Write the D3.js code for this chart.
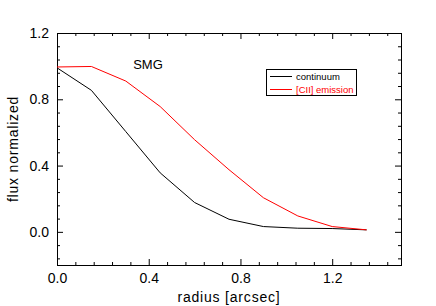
<!DOCTYPE html>
<html>
<head>
<meta charset="utf-8">
<script src="https://cdn.jsdelivr.net/npm/d3@7"></script>
<style>
    body { margin: 0; background: #fff; }
    svg { display: block; font-family: "Liberation Sans", Arial, Helvetica, sans-serif; }
</style>
</head>
<body>
<div id="chart"></div>
<script>
// radius sampling (arcsec)
var radius = [0.0, 0.15, 0.3, 0.45, 0.6, 0.75, 0.9, 1.05, 1.2, 1.35];
// normalized flux profiles
var continuum = [0.99, 0.854, 0.605, 0.356, 0.177, 0.076, 0.032, 0.022, 0.02, 0.012];
var ciiEmission = [0.995, 0.998, 0.91, 0.756, 0.556, 0.375, 0.206, 0.096, 0.032, 0.012];

var majorTicks = [0.0, 0.4, 0.8, 1.2];
var minorStep = 0.08;

var width = 436, height = 306;
var margin = { top: 33, right: 35, bottom: 41, left: 57 };

var svg = d3.select("#chart")
    .append("svg")
    .attr("width", width)
    .attr("height", height);

var x = d3.scaleLinear()
    .domain([0, 1.5])
    .range([margin.left, width - margin.right]);

var y = d3.scaleLinear()
    .domain([-0.2, 1.2])
    .range([height - margin.bottom, margin.top]);

// minor tick positions, multiples of 0.08 inside the domain
function minors(scale) {
    var d = scale.domain(), out = [];
    for (var i = Math.ceil(d[0] / minorStep); i * minorStep <= d[1] + 1e-9; i++) {
        var v = +(i * minorStep).toFixed(4);
        if (majorTicks.indexOf(v) < 0) out.push(v);
    }
    return out;
}

var fmt = d3.format(".1f");

function drawAxis(axisFn, scale, tx, ty, labels) {
    // minor ticks
    svg.append("g")
        .attr("transform", "translate(" + tx + "," + ty + ")")
        .call(axisFn(scale).tickValues(minors(scale)).tickSize(-3).tickFormat(""))
        .call(function (g) { g.select(".domain").remove(); });
    // major ticks
    var g = svg.append("g")
        .attr("transform", "translate(" + tx + "," + ty + ")")
        .call(axisFn(scale).tickValues(majorTicks).tickSize(-6).tickPadding(8)
            .tickFormat(labels ? fmt : ""));
    g.select(".domain").remove();
    g.selectAll("text").attr("font-size", 14).attr("fill", "#000")
        .attr("font-family", "\"Liberation Sans\", Arial, Helvetica, sans-serif");
    g.selectAll("line").attr("stroke", "#000");
}

var x0 = x.range()[0], x1 = x.range()[1];
var y0 = y.range()[0], y1 = y.range()[1];

drawAxis(d3.axisBottom, x, 0, y0, true);
drawAxis(d3.axisTop, x, 0, y1, false);
drawAxis(d3.axisLeft, y, x0, 0, true);
drawAxis(d3.axisRight, y, x1, 0, false);

// frame
svg.append("rect")
    .attr("x", x0 + 0.5)
    .attr("y", y1 + 0.5)
    .attr("width", x1 - x0)
    .attr("height", y0 - y1)
    .attr("fill", "none")
    .attr("stroke", "#000")
    .attr("stroke-width", 1);

// profiles
var line = d3.line()
    .x(function (d, i) { return x(radius[i]); })
    .y(function (d) { return y(d); });

svg.append("path")
    .datum(continuum)
    .attr("fill", "none")
    .attr("stroke", "#000")
    .attr("stroke-width", 1)
    .attr("d", line);

svg.append("path")
    .datum(ciiEmission)
    .attr("fill", "none")
    .attr("stroke", "#ff0000")
    .attr("stroke-width", 1)
    .attr("d", line);

// axis titles
svg.append("text")
    .attr("x", (x0 + x1) / 2)
    .attr("y", 302)
    .attr("text-anchor", "middle")
    .attr("font-size", 14)
    .attr("letter-spacing", 0.8)
    .text("radius [arcsec]");

svg.append("text")
    .attr("transform", "translate(18," + ((y0 + y1) / 2) + ") rotate(-90)")
    .attr("text-anchor", "middle")
    .attr("font-size", 14)
    .attr("letter-spacing", 0.8)
    .text("flux normalized");

// label
svg.append("text")
    .attr("x", 148)
    .attr("y", 69)
    .attr("text-anchor", "middle")
    .attr("font-size", 13)
    .text("SMG");

// legend
var legend = svg.append("g").attr("transform", "translate(266,69)");
legend.append("rect")
    .attr("x", 0.5).attr("y", 0.5)
    .attr("width", 90).attr("height", 26)
    .attr("fill", "#fff")
    .attr("stroke", "#000")
    .attr("stroke-width", 1);

var items = [
    { name: "continuum", color: "#000" },
    { name: "[CII] emission", color: "#ff0000" }
];
items.forEach(function (d, i) {
    var yy = 7.5 + i * 13;
    legend.append("line")
        .attr("x1", 4).attr("x2", 26)
        .attr("y1", yy).attr("y2", yy)
        .attr("stroke", d.color);
    legend.append("text")
        .attr("x", 30)
        .attr("y", yy + 3)
        .attr("font-size", 9.5)
        .attr("fill", d.color)
        .text(d.name);
});
</script>
</body>
</html>
